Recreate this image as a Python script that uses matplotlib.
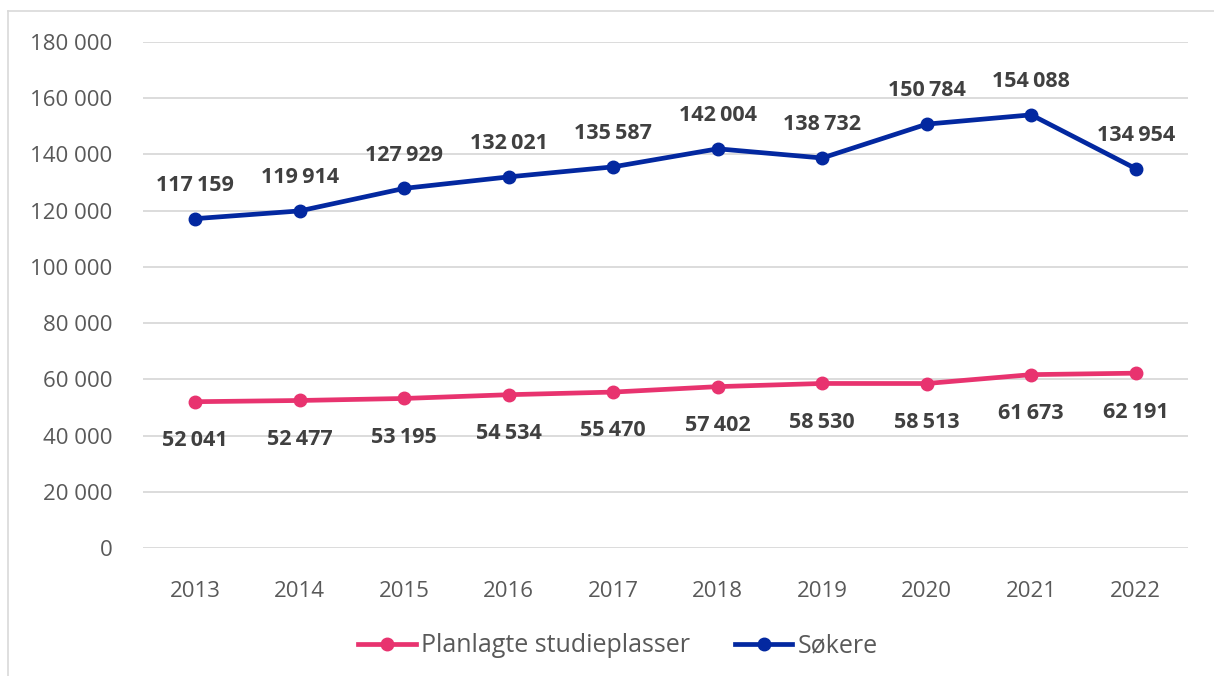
import matplotlib
matplotlib.use("Agg")
import matplotlib.pyplot as plt
from matplotlib.lines import Line2D

years = ["2013", "2014", "2015", "2016", "2017", "2018", "2019", "2020", "2021", "2022"]
planlagte = [52041, 52477, 53195, 54534, 55470, 57402, 58530, 58513, 61673, 62191]
sokere = [117159, 119914, 127929, 132021, 135587, 142004, 138732, 150784, 154088, 134954]
yticks = list(range(0, 180001, 20000))

PINK = "#E8336F"
BLUE = "#0328A0"
LABEL = "#404040"
TICK = "#595959"
FONT = ["Open Sans", "DejaVu Sans"]

def fmt(v, sep=" "):
    return f"{v:,}".replace(",", sep)

fig = plt.figure(figsize=(12.14, 6.76), dpi=100)
ax = fig.add_axes([143/1214, 128/676, 1045/1214, 506/676])

x = list(range(len(years)))
ax.plot(x, planlagte, color=PINK, lw=3.4, marker="o", ms=9, solid_capstyle="round", zorder=3)
ax.plot(x, sokere, color=BLUE, lw=3.4, marker="o", ms=9, solid_capstyle="round", zorder=3)

for xi, v in zip(x, planlagte):
    ax.annotate(fmt(v, "\u2009"), (xi, v), xytext=(0, -28), textcoords="offset points",
                ha="center", va="center", fontsize=15.5, fontweight="bold",
                color=LABEL, family=FONT)
for xi, v in zip(x, sokere):
    ax.annotate(fmt(v, "\u2009"), (xi, v), xytext=(0, 24), textcoords="offset points",
                ha="center", va="center", fontsize=15.5, fontweight="bold",
                color=LABEL, family=FONT)

ax.set_xlim(-0.5, len(years) - 0.5)
ax.set_ylim(0, 180000)
ax.set_yticks(yticks)
ax.set_yticklabels([fmt(t) for t in yticks], family=FONT, fontsize=16, color=TICK)
ax.set_xticks(x)
ax.set_xticklabels(years, family=FONT, fontsize=16, color=TICK)
ax.tick_params(axis="x", length=0, pad=24)
ax.tick_params(axis="y", length=0, pad=22)
ax.grid(axis="y", color="#d9d9d9", lw=1.3)
ax.set_axisbelow(True)
for s in ax.spines.values():
    s.set_visible(False)

handles = [
    Line2D([0], [0], color=PINK, lw=3.4, marker="o", ms=9),
    Line2D([0], [0], color=BLUE, lw=3.4, marker="o", ms=9),
]
fig.legend(handles, ["Planlagte studieplasser", "Søkere"], loc="center",
           bbox_to_anchor=(618/1214, 1 - 646/676), ncol=2, frameon=False,
           prop={"family": FONT, "size": 18}, labelcolor=TICK,
           handlelength=2.3, columnspacing=1.8, handletextpad=0.2)

# outer border (left and top)
fig.add_artist(Line2D([8/1214, 8/1214], [0, 1 - 11/676], transform=fig.transFigure, color="#d9d9d9", lw=1.2))
fig.add_artist(Line2D([8/1214, 1], [1 - 11/676, 1 - 11/676], transform=fig.transFigure, color="#d9d9d9", lw=1.2))

fig.savefig("out.png", dpi=100)
